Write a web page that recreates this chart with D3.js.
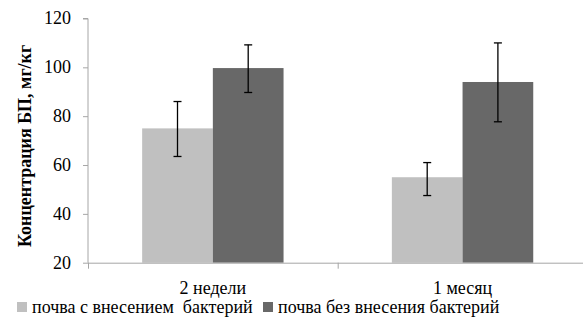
<!DOCTYPE html>
<html><head><meta charset="utf-8">
<script src="https://cdn.jsdelivr.net/npm/d3@7"></script>
</head><body style="margin:0;background:#fff"><svg id="c" width="583" height="335" style="display:block"></svg>
<script>
const categories = ["2 недели", "1 месяц"];
const seriesNames = ["почва с внесением  бактерий", "почва без внесения бактерий"];
const withBacteria = [75, 55];
const withBacteriaLow = [63.5, 47.5];
const withBacteriaHigh = [86, 61];
const withoutBacteria = [99.7, 94];
const withoutBacteriaLow = [89.7, 77.7];
const withoutBacteriaHigh = [109.2, 110];
const yTicks = [20, 40, 60, 80, 100, 120];
const colors = ["#c0c0c0", "#686868"];

const svg = d3.select("#c");
const FF = '"Liberation Serif"';
const mL = 88, mR = 587.4, mT = 18.5, mB = 262.7;

const x = d3.scaleBand().domain(categories).range([mL, mR]).padding(0);
const inner = d3.scaleBand().domain([0, 1]).range([0, x.bandwidth()]).paddingInner(0).paddingOuter(0.766);
const y = d3.scaleLinear().domain([20, 120]).range([mB, mT]);

const series = [
  {vals: withBacteria, lo: withBacteriaLow, hi: withBacteriaHigh},
  {vals: withoutBacteria, lo: withoutBacteriaLow, hi: withoutBacteriaHigh}
];

series.forEach((s, si) => {
  svg.append("g").selectAll("rect").data(categories).join("rect")
    .attr("x", c => x(c) + inner(si))
    .attr("width", inner.bandwidth())
    .attr("y", (c, i) => y(s.vals[i]))
    .attr("height", (c, i) => y(20) - y(s.vals[i]))
    .attr("fill", colors[si]);
});

// y axis
const ya = svg.append("g").attr("transform", `translate(${mL},0)`)
  .call(d3.axisLeft(y).tickValues(yTicks).tickSize(5).tickPadding(12));
ya.attr("font-family", null).attr("font-size", null);
ya.select(".domain").attr("stroke", "#a6a6a6").attr("d", `M-5,${mT}H0V${mB}`);
ya.selectAll(".tick line").attr("stroke", "#a6a6a6");
ya.selectAll(".tick text").style("font-family", FF).attr("font-size", 18).attr("fill", "#000").attr("dy", "0.3em");

// x axis
const xa = svg.append("g").attr("transform", `translate(0,${mB})`);
xa.append("line").attr("x1", mL).attr("x2", 583).attr("y1", 0.5).attr("y2", 0.5).attr("stroke", "#a6a6a6");
[mL, x(categories[1])].forEach(px => {
  xa.append("line").attr("x1", px + 0.5).attr("x2", px + 0.5).attr("y1", 0).attr("y2", 6).attr("stroke", "#a6a6a6");
});
xa.selectAll("text").data(categories).join("text")
  .attr("x", c => x(c) + x.bandwidth() / 2)
  .attr("y", 31.5)
  .attr("text-anchor", "middle")
  .style("font-family", FF).attr("font-size", 18).attr("fill", "#000")
  .text(c => c);

// error bars
series.forEach((s, si) => {
  const g = svg.append("g").attr("stroke", "#000").attr("stroke-width", 1.3);
  categories.forEach((c, i) => {
    const cx = x(c) + inner(si) + inner.bandwidth() / 2;
    g.append("line").attr("x1", cx).attr("x2", cx).attr("y1", y(s.hi[i])).attr("y2", y(s.lo[i]));
    g.append("line").attr("x1", cx - 4).attr("x2", cx + 4).attr("y1", y(s.hi[i])).attr("y2", y(s.hi[i]));
    g.append("line").attr("x1", cx - 4).attr("x2", cx + 4).attr("y1", y(s.lo[i])).attr("y2", y(s.lo[i]));
  });
});

// y label
svg.append("text")
  .attr("transform", `translate(31,146) rotate(-90)`)
  .attr("text-anchor", "middle")
  .style("font-family", FF).attr("font-size", 18).attr("font-weight", "bold")
  .text("Концентрация БП, мг/кг");

// legend
const legendX = [17, 263];
seriesNames.forEach((n, i) => {
  svg.append("rect").attr("x", legendX[i]).attr("y", 302).attr("width", 10).attr("height", 10).attr("fill", colors[i]);
  svg.append("text").attr("x", legendX[i] + 15).attr("y", 313)
    .style("font-family", FF).attr("font-size", 18).attr("fill", "#000")
    .style("white-space", "pre")
    .text(n);
});
</script></body></html>
